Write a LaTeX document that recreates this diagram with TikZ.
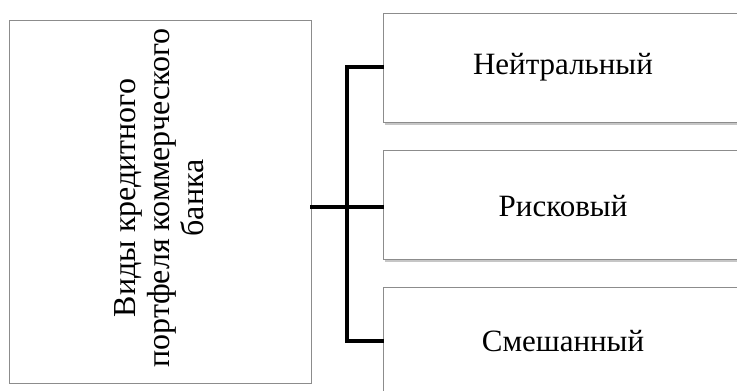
\documentclass[tikz,border=0pt]{standalone}
\usepackage{fontspec}
\setmainfont{Liberation Serif}
\usetikzlibrary{shadows}
\begin{document}
\begin{tikzpicture}[x=1pt,y=-1pt,
  mainbox/.style={draw=black!45,line width=0.8pt,fill=white},
  sidebox/.style={draw=black!45,line width=0.8pt,fill=white,
    drop shadow={shadow xshift=1.5pt,shadow yshift=-2.5pt,opacity=0.45,fill=black!50}},
  lbl/.style={font=\fontsize{31}{36}\selectfont},
  conn/.style={line width=3.2pt,line cap=rect}]
\useasboundingbox (0,0) rectangle (737,391);
\clip (0,0) rectangle (737,391);
\node[mainbox,minimum width=302pt,minimum height=363pt,inner sep=0pt] (main) at (160,202) {};
\node[rotate=90,align=center,font=\fontsize{32}{34}\selectfont] (maintext) at (159,198) {Виды кредитного\\портфеля коммерческого\\банка};
\node[sidebox,minimum width=362pt,minimum height=109pt,inner sep=0pt] (b1) at (564,67.5) {};
\node[sidebox,minimum width=362pt,minimum height=109pt,inner sep=0pt] (b2) at (564,205) {};
\node[sidebox,minimum width=362pt,minimum height=109pt,inner sep=0pt] (b3) at (564,341.5) {};
\node[lbl] (t1) at (563,67) {Нейтральный};
\node[lbl] (t2) at (563,206) {Рисковый};
\node[lbl] (t3) at (563,341) {Смешанный};
\coordinate (j1) at (347,67);
\coordinate (j2) at (347,207);
\coordinate (j3) at (347,341);
\draw[conn] (main.east |- j2) -- (j2);
\draw[conn] (b1.west |- j1) -- (j1) -- (j3) -- (b3.west |- j3);
\draw[conn] (j2) -- (b2.west |- j2);
\end{tikzpicture}
\end{document}
